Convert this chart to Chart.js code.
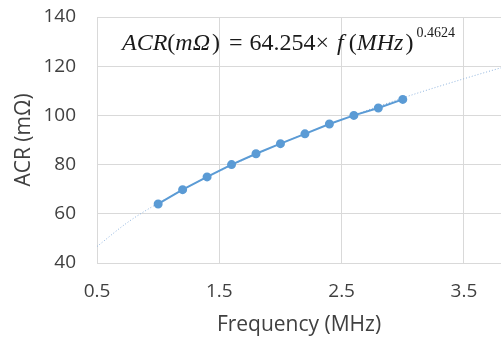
<!DOCTYPE html>
<html>
<head>
<meta charset="utf-8">
<script src="https://cdn.jsdelivr.net/npm/chart.js@4/dist/chart.umd.min.js"></script>
<style>
  html, body { margin: 0; padding: 0; background: #fff; overflow: hidden; }
  #wrap { width: 501px; height: 343px; }
</style>
</head>
<body>
<div id="wrap"><canvas id="acr"></canvas></div>
<script>
// measured points
const freq = [1.0, 1.2, 1.4, 1.6, 1.8, 2.0, 2.2, 2.4, 2.6, 2.8, 3.0];
const acr = [64.0, 69.8, 75.0, 80.0, 84.4, 88.5, 92.5, 96.5, 100.0, 103.0, 106.5];

// power trendline
const trendFreq = [0.5, 0.75, 1.0, 1.5, 2.0, 2.5, 3.0, 3.5, 4.0];
const trendAcr = [46.7, 56.5, 64.3, 77.3, 88.5, 98.3, 107.1, 114.9, 122.2];

const xTicks = [0.5, 1.5, 2.5, 3.5];
const yTicks = [40, 60, 80, 100, 120, 140];

const equationText = {
  id: 'equationText',
  afterDraw(chart) {
    const ctx = chart.ctx;
    ctx.save();
    ctx.fillStyle = '#1a1a1a';
    ctx.textBaseline = 'alphabetic';
    const it = 'italic 24px "Liberation Serif"';
    const rm = '24px "Liberation Serif"';
    let x = 122, y = 50;
    const put = (t, f, gap) => {
      ctx.font = f;
      ctx.fillText(t, x, y);
      x += ctx.measureText(t).width + (gap || 0);
    };
    put('ACR', it);
    put('(', rm);
    put('m\u03A9', it, 2);
    put(')', rm, 9);
    put('=', rm, 7);
    put('64.254\u00D7', rm, 8);
    put('f', it, 5);
    put('(', rm);
    put('MHz', it, 2);
    put(')', rm, 3);
    ctx.font = '14px "Liberation Serif"';
    ctx.fillText('0.4624', x, y - 13);
    ctx.restore();
  }
};

const tickFont = { family: '"Open Sans"', size: 19 };
const titleFont = { family: '"Open Sans"', size: 21 };

new Chart('acr', {
  type: 'scatter',
  data: {
    datasets: [
      {
        data: freq.map((f, i) => ({ x: f, y: acr[i] })),
        showLine: true,
        borderColor: '#5b9bd5',
        backgroundColor: '#5b9bd5',
        borderWidth: 2,
        pointRadius: 3.5,
        order: 0
      },
      {
        data: trendFreq.map((f, i) => ({ x: f, y: trendAcr[i] })),
        showLine: true,
        borderColor: '#8fb4de',
        borderWidth: 1,
        borderDash: [1, 2],
        pointRadius: 0,
        cubicInterpolationMode: 'monotone',
        order: 1
      }
    ]
  },
  options: {
    responsive: true,
    maintainAspectRatio: false,
    animation: false,
    layout: { padding: 0, autoPadding: false },
    plugins: { legend: { display: false }, tooltip: { enabled: false } },
    scales: {
      x: {
        type: 'linear',
        min: 0.5,
        max: 3.803,
        afterBuildTicks: s => { s.ticks = xTicks.map(v => ({ value: v })); },
        afterFit: s => { s.height = 80; s.paddingLeft = 0; s.paddingRight = 0; },
        grid: { color: '#d9d9d9', drawTicks: false },
        border: { color: '#d9d9d9' },
        ticks: { color: '#404040', font: tickFont, padding: 17, callback: v => v.toFixed(1) },
        title: { display: true, text: 'Frequency (MHz)', color: '#404040', font: titleFont, padding: { top: 0, bottom: 5 } }
      },
      y: {
        min: 40,
        max: 140,
        afterBuildTicks: s => { s.ticks = yTicks.map(v => ({ value: v })); },
        afterFit: s => { s.width = 97; s.paddingTop = 17; s.paddingBottom = 0; },
        grid: { color: '#d9d9d9', drawTicks: false },
        border: { color: '#d9d9d9' },
        ticks: { color: '#404040', font: tickFont, padding: 21 },
        title: { display: true, text: 'ACR (m\u03A9)', color: '#404040', font: titleFont, padding: { top: 11, bottom: 0 } }
      }
    }
  },
  plugins: [equationText]
});
</script>
</body>
</html>
